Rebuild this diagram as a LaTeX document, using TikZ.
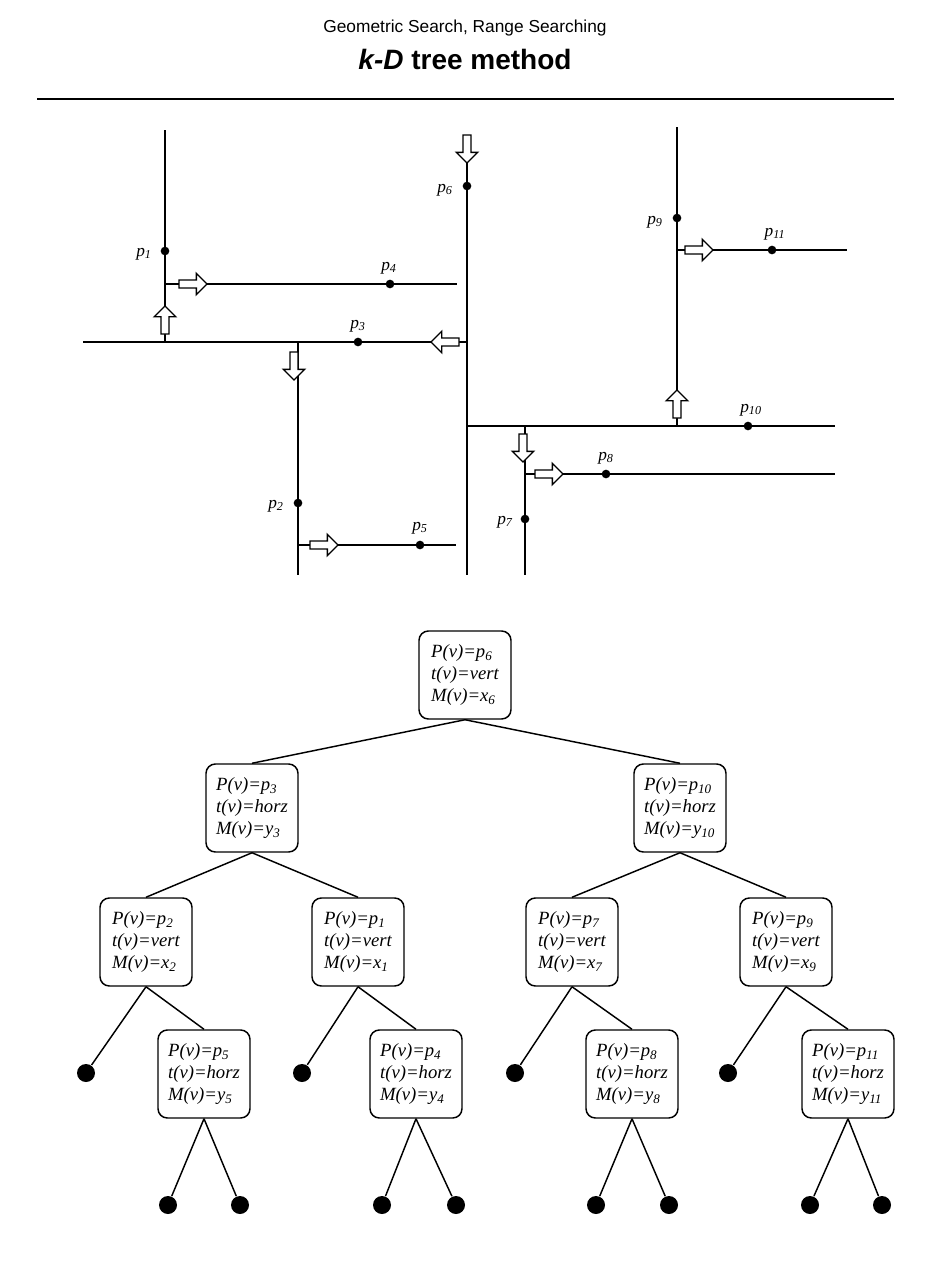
\documentclass[tikz,border=0pt]{standalone}
\usepackage{fontspec}
\setmainfont{Liberation Serif}
\newfontfamily\sansfont{Liberation Sans}
\usetikzlibrary{shapes.arrows}

\tikzset{every picture/.style={line width=1.1pt}}
\tikzset{
  pt/.style={circle,fill=black,inner sep=0pt,minimum size=6.5pt},
  leaf/.style={circle,fill=black,inner sep=0pt,minimum size=13.5pt},
  lbl/.style={inner sep=0.75pt,font=\fontsize{13}{15}\selectfont\itshape},
  harrow/.style={single arrow,draw,fill=white,line width=1pt,minimum height=21pt,
    minimum width=16pt,single arrow head extend=3.5pt,inner sep=1.6pt},
  tnode/.style={draw,rounded corners=7pt,align=left,inner sep=2.5pt,minimum width=69pt,
    minimum height=66pt,font=\fontsize{14}{16.5}\selectfont\itshape}
}
\newcommand{\pv}[3]{P(v)=p\textsubscript{#1}\\t(v)=#2\\M(v)=#3}

\begin{document}
\begin{tikzpicture}[x=0.75pt,y=0.75pt,yscale=-1,xscale=1]
\useasboundingbox (0,0) rectangle (931,1288);

% Title
\node (t1) at (465,28) {\sansfont\fontsize{13}{15}\selectfont Geometric Search, Range Searching};
\node (t2) at (465,59) {\sansfont\bfseries\fontsize{21}{24}\selectfont\textit{k-D} tree method};
\draw (37,99) -- (894,99);

% Points
\node[pt] (p1) at (165,251) {};
\node[pt] (p2) at (298,503) {};
\node[pt] (p3) at (358,342) {};
\node[pt] (p4) at (390,284) {};
\node[pt] (p5) at (420,545) {};
\node[pt] (p6) at (467,186) {};
\node[pt] (p7) at (525,519) {};
\node[pt] (p8) at (606,474) {};
\node[pt] (p9) at (677,218) {};
\node[pt] (p10) at (748,426) {};
\node[pt] (p11) at (772,250) {};

% Split lines
\draw (165,130) -- (165,342);
\draw (165,284) -- (457,284);
\draw (83,342) -- (467,342);
\draw (298,342) -- (298,575);
\draw (298,545) -- (456,545);
\draw (467,160) -- (467,575);
\draw (467,426) -- (835,426);
\draw (525,426) -- (525,575);
\draw (525,474) -- (835,474);
\draw (677,127) -- (677,426);
\draw (677,250) -- (847,250);

% Direction arrows
\node[harrow,rotate=-90] (a6) at (467,147) {};
\node[harrow,rotate=90] (a1) at (165,322) {};
\node[harrow] (a4) at (191,284) {};
\node[harrow,rotate=-90] (a2) at (294,364) {};
\node[harrow,rotate=180] (a3) at (447,342) {};
\node[harrow] (a5) at (322,545) {};
\node[harrow,rotate=90] (a10) at (677,406) {};
\node[harrow] (a11) at (697,250) {};
\node[harrow,rotate=-90] (a7) at (523,446) {};
\node[harrow] (a8) at (547,474) {};

% Point labels
\node[lbl] (l1) at (144,254) {p\textsubscript{1}};
\node[lbl] (l2) at (276,506) {p\textsubscript{2}};
\node[lbl] (l3) at (358,326) {p\textsubscript{3}};
\node[lbl] (l4) at (389,268) {p\textsubscript{4}};
\node[lbl] (l5) at (420,528) {p\textsubscript{5}};
\node[lbl] (l6) at (445,190) {p\textsubscript{6}};
\node[lbl] (l7) at (505,522) {p\textsubscript{7}};
\node[lbl] (l8) at (606,458) {p\textsubscript{8}};
\node[lbl] (l9) at (655,222) {p\textsubscript{9}};
\node[lbl] (l10) at (751,410) {p\textsubscript{10}};
\node[lbl] (l11) at (775,234) {p\textsubscript{11}};

% Tree
\node[tnode] (n6) at (465,675) {\pv{6}{vert}{x\textsubscript{6}}};
\node[tnode] (n3) at (252,808) {\pv{3}{horz}{y\textsubscript{3}}};
\node[tnode] (n10) at (680,808) {\pv{10}{horz}{y\textsubscript{10}}};
\node[tnode] (n2) at (146,942) {\pv{2}{vert}{x\textsubscript{2}}};
\node[tnode] (n1) at (358,942) {\pv{1}{vert}{x\textsubscript{1}}};
\node[tnode] (n7) at (572,942) {\pv{7}{vert}{x\textsubscript{7}}};
\node[tnode] (n9) at (786,942) {\pv{9}{vert}{x\textsubscript{9}}};
\node[tnode] (n5) at (204,1074) {\pv{5}{horz}{y\textsubscript{5}}};
\node[tnode] (n4) at (416,1074) {\pv{4}{horz}{y\textsubscript{4}}};
\node[tnode] (n8) at (632,1074) {\pv{8}{horz}{y\textsubscript{8}}};
\node[tnode] (n11) at (848,1074) {\pv{11}{horz}{y\textsubscript{11}}};

\node[leaf] (e2) at (86,1073) {};
\node[leaf] (e1) at (302,1073) {};
\node[leaf] (e7) at (515,1073) {};
\node[leaf] (e9) at (728,1073) {};
\node[leaf] (e5a) at (168,1205) {};
\node[leaf] (e5b) at (240,1205) {};
\node[leaf] (e4a) at (382,1205) {};
\node[leaf] (e4b) at (456,1205) {};
\node[leaf] (e8a) at (596,1205) {};
\node[leaf] (e8b) at (669,1205) {};
\node[leaf] (e11a) at (810,1205) {};
\node[leaf] (e11b) at (882,1205) {};

\draw (n6.south) -- (n3.north);
\draw (n6.south) -- (n10.north);
\draw (n3.south) -- (n2.north);
\draw (n3.south) -- (n1.north);
\draw (n10.south) -- (n7.north);
\draw (n10.south) -- (n9.north);
\foreach \p/\l/\c in {n2/e2/n5,n1/e1/n4,n7/e7/n8,n9/e9/n11}{
  \draw (\p.south) -- (\l);
  \draw (\p.south) -- (\c.north);
}
\foreach \p/\a/\b in {n5/e5a/e5b,n4/e4a/e4b,n8/e8a/e8b,n11/e11a/e11b}{
  \draw (\p.south) -- (\a);
  \draw (\p.south) -- (\b);
}
\end{tikzpicture}
\end{document}
